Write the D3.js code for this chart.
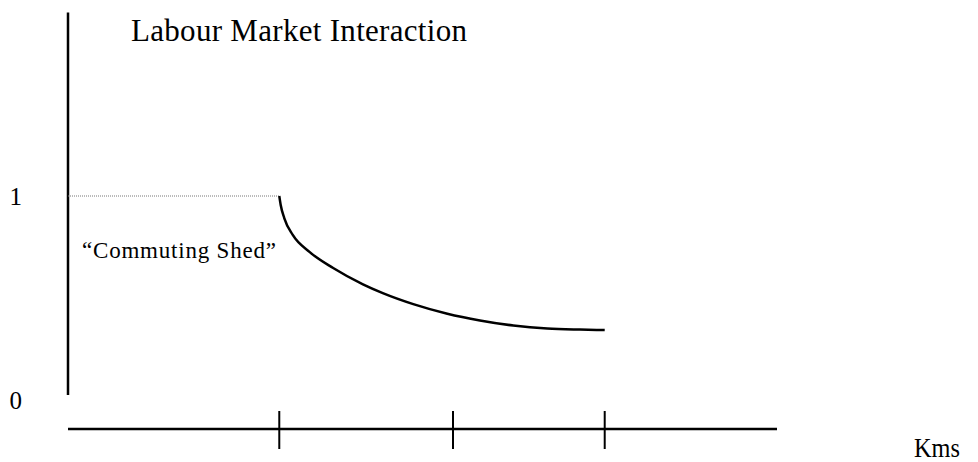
<!DOCTYPE html>
<html>
<head>
<meta charset="utf-8">
<script src="https://cdn.jsdelivr.net/npm/d3@7"></script>
<style>
    body { margin: 0; background: #fff; }
    text { font-family: 'Liberation Serif', 'Times New Roman', serif; fill: #000; }
</style>
</head>
<body>
<svg id="canvas"></svg>
<script>
const width = 978;
const height = 462;

// データ (x: 距離, y: 相互作用)
const xTicks = [2.98, 5.43, 7.57];
const yLabels = [{ value: 1, label: '1' }, { value: 0, label: '0' }];
const shedEnd = 2.98;
const curveX = [2.98, 3.0, 3.05, 3.17, 3.41, 3.74, 4.16, 4.44, 4.87, 5.35, 5.81, 6.28, 6.76, 7.22, 7.57];
const curveY = [1.0, 0.956, 0.892, 0.809, 0.725, 0.647, 0.567, 0.524, 0.470, 0.423, 0.390, 0.365, 0.350, 0.345, 0.343];

const svg = d3.select('#canvas')
    .attr('width', width)
    .attr('height', height);

const x = d3.scaleLinear().domain([0, 10]).range([68, 777]);
const y = d3.scaleLinear().domain([0, 1]).range([400, 196]);

// 縦軸
svg.append('line')
    .attr('x1', x(0)).attr('x2', x(0))
    .attr('y1', y(1.9)).attr('y2', y(0.025))
    .attr('stroke', '#000')
    .attr('stroke-width', 2.5);

// 横軸
const axisY = 429;
svg.append('line')
    .attr('x1', x(0)).attr('x2', x(10))
    .attr('y1', axisY).attr('y2', axisY)
    .attr('stroke', '#000')
    .attr('stroke-width', 2.5);

svg.selectAll('.tick')
    .data(xTicks)
    .enter().append('line')
    .attr('class', 'tick')
    .attr('x1', d => x(d)).attr('x2', d => x(d))
    .attr('y1', axisY - 18).attr('y2', axisY + 20)
    .attr('stroke', '#000')
    .attr('stroke-width', 2);

// 軸ラベル
svg.selectAll('.ylabel')
    .data(yLabels)
    .enter().append('text')
    .attr('class', 'ylabel')
    .attr('x', 9.5)
    .attr('y', d => y(d.value) + 9)
    .attr('font-size', 25)
    .text(d => d.label);

svg.append('text')
    .attr('x', 914)
    .attr('y', 457)
    .attr('font-size', 27)
    .attr('textLength', 46)
    .attr('lengthAdjust', 'spacingAndGlyphs')
    .text('Kms');

// 通勤圏 (点線)
svg.append('line')
    .attr('x1', x(0)).attr('x2', x(shedEnd))
    .attr('y1', y(1)).attr('y2', y(1))
    .attr('stroke', '#777')
    .attr('stroke-width', 1)
    .attr('stroke-dasharray', '1,1');

// カーブ
const data = curveX.map((d, i) => ({ x: d, y: curveY[i] }));
svg.append('path')
    .datum(data)
    .attr('fill', 'none')
    .attr('stroke', '#000')
    .attr('stroke-width', 2.5)
    .attr('d', d3.line()
        .x(d => x(d.x))
        .y(d => y(d.y))
        .curve(d3.curveMonotoneX));

svg.append('text')
    .attr('x', 131)
    .attr('y', 41)
    .attr('font-size', 31)
    .attr('textLength', 336)
    .attr('lengthAdjust', 'spacing')
    .text('Labour Market Interaction');

svg.append('text')
    .attr('x', 82)
    .attr('y', 258)
    .attr('font-size', 23)
    .attr('textLength', 194)
    .attr('lengthAdjust', 'spacing')
    .text('\u201CCommuting Shed\u201D');
</script>
</body>
</html>
